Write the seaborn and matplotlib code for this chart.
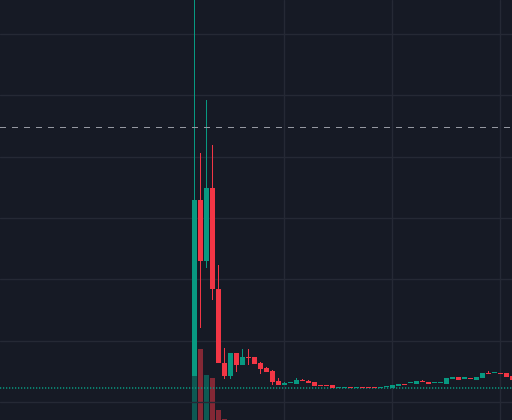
import matplotlib
matplotlib.use("Agg")
import matplotlib.pyplot as plt
import numpy as np
import pandas as pd
import seaborn as sns

# ---- data (price units; chart has no visible axis labels) ----
opens = [0.424, 3.294, 2.304, 3.489, 1.838, 0.636, 0.429, 0.799, 0.608, 0.734,
         0.734, 0.636, 0.559, 0.510, 0.347, 0.285, 0.305, 0.298, 0.359, 0.342,
         0.326, 0.277, 0.277, 0.277, 0.223, 0.235, 0.245, 0.223, 0.232, 0.228,
         0.228, 0.223, 0.240, 0.228, 0.256, 0.293, 0.302, 0.298, 0.342, 0.326,
         0.305, 0.305, 0.298, 0.375, 0.408, 0.383, 0.391, 0.364, 0.396, 0.473,
         0.465, 0.473, 0.473, 0.424]
closes = [3.294, 2.304, 3.489, 1.838, 0.628, 0.429, 0.799, 0.608, 0.734, 0.717,
          0.624, 0.543, 0.494, 0.331, 0.282, 0.302, 0.313, 0.359, 0.342, 0.310,
          0.266, 0.261, 0.261, 0.228, 0.232, 0.245, 0.235, 0.228, 0.223, 0.223,
          0.223, 0.245, 0.245, 0.277, 0.293, 0.282, 0.310, 0.342, 0.326, 0.298,
          0.310, 0.310, 0.391, 0.408, 0.359, 0.391, 0.382, 0.408, 0.473, 0.461,
          0.473, 0.463, 0.413, 0.364]
highs = [7.000, 4.065, 4.924, 4.190, 2.234, 0.880, 0.799, 0.799, 0.872, 0.864,
         0.734, 0.652, 0.571, 0.527, 0.396, 0.321, 0.313, 0.391, 0.375, 0.359,
         0.326, 0.277, 0.277, 0.277, 0.232, 0.245, 0.245, 0.228, 0.245, 0.228,
         0.228, 0.245, 0.245, 0.277, 0.293, 0.293, 0.310, 0.342, 0.359, 0.326,
         0.310, 0.310, 0.391, 0.408, 0.408, 0.391, 0.391, 0.408, 0.473, 0.505,
         0.473, 0.473, 0.473, 0.424]
lows = [0.424, 1.211, 2.193, 1.663, 0.628, 0.375, 0.375, 0.494, 0.608, 0.603,
        0.624, 0.461, 0.489, 0.282, 0.282, 0.282, 0.305, 0.298, 0.342, 0.310,
        0.266, 0.261, 0.261, 0.228, 0.223, 0.235, 0.235, 0.223, 0.223, 0.223,
        0.223, 0.223, 0.240, 0.228, 0.256, 0.282, 0.302, 0.298, 0.326, 0.298,
        0.305, 0.305, 0.298, 0.375, 0.359, 0.383, 0.382, 0.364, 0.396, 0.461,
        0.465, 0.463, 0.413, 0.364]
volumes = [44000, 71000, 45000, 42000, 10000, 1000] + [200] * 48

grid_prices = [0, 1, 2, 3, 4, 5, 6]
vgrid_bars = [15, 33, 51]
crosshair_price = 4.484
last_price_line = 0.228

# ---- colours / style ----
BG = "#161a25"
GRID = "#252935"
UP = "#089981"
DOWN = "#f23645"
UP_VOL = (8/255, 153/255, 129/255, 0.5)
DOWN_VOL = (242/255, 54/255, 69/255, 0.5)

sns.set_style("dark", {"axes.facecolor": BG, "figure.facecolor": BG})
plt.rcParams["lines.scale_dashes"] = False

n = len(opens)
df = pd.DataFrame({"idx": np.arange(n), "open": opens, "close": closes,
                   "high": highs, "low": lows, "volume": volumes})
df["dir"] = np.where(df["close"] >= df["open"], "up", "down")

fig = plt.figure(figsize=(5.12, 4.20), dpi=100)
fig.patch.set_facecolor(BG)
axv = fig.add_axes([0, 0, 1, 1])
ax = fig.add_axes([0, 0, 1, 1], sharex=axv)
ax.patch.set_visible(False)
axv.set_facecolor(BG)

# volume (behind)
sns.barplot(data=df, x="idx", y="volume", hue="dir", native_scale=True,
            palette={"up": UP_VOL, "down": DOWN_VOL}, saturation=1,
            dodge=False, width=5/6, linewidth=0, legend=False, ax=axv)
axv.set_ylim(0, 420000)

# grid
for gp in grid_prices:
    ax.axhline(gp, color=GRID, linewidth=1, zorder=0)
for gb in vgrid_bars:
    ax.axvline(gb, color=GRID, linewidth=1, zorder=0)

# candles: wicks as 1px-wide bars, bodies as 5px-wide bars
cols = [UP if d == "up" else DOWN for d in df["dir"]]
ax.bar(df["idx"], df["high"] - df["low"], bottom=df["low"], width=1/6,
       color=cols, linewidth=0, zorder=3)
body_bottom = np.minimum(df["open"], df["close"])
body_h = np.maximum(np.abs(df["close"] - df["open"]), 0.0165)
ax.bar(df["idx"], body_h, bottom=body_bottom, width=5/6, color=cols,
       linewidth=0, zorder=4)

# price line & crosshair
ax.axhline(last_price_line, color=UP, linewidth=1.1, dashes=(0.9, 1.26), zorder=2)
ax.axhline(crosshair_price, color="#9598a1", linewidth=1, dashes=(3.6, 4.32),
           antialiased=False, zorder=5)

ax.set_xlim(-32.417, 52.917)
ax.set_ylim(-0.2935, 6.5547)
for a in (ax, axv):
    a.set_xticks([]); a.set_yticks([])
    a.set_xlabel(""); a.set_ylabel("")
    for s in a.spines.values():
        s.set_visible(False)

fig.savefig("out.png", dpi=100, facecolor=BG)
